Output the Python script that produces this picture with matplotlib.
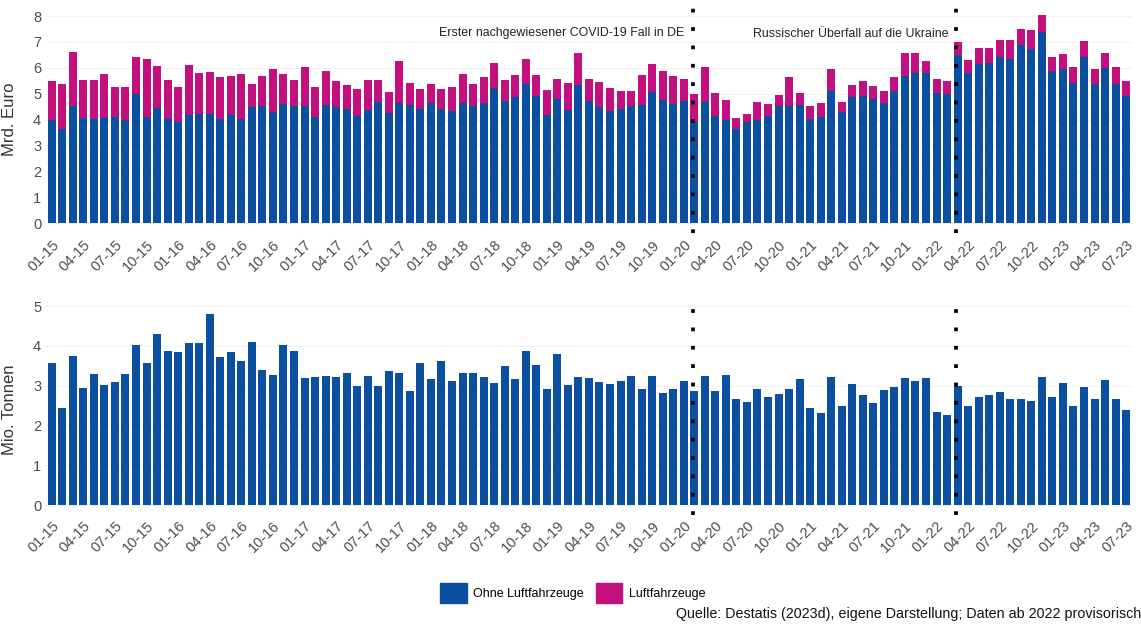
import matplotlib
matplotlib.use("Agg")
import matplotlib.pyplot as plt
from matplotlib.patches import Patch
import numpy as np

plt.rcParams['font.family'] = ['Liberation Sans', 'DejaVu Sans']

# Monatswerte 01/2015 - 07/2023
tick_labels = ["01-15", "04-15", "07-15", "10-15", "01-16", "04-16", "07-16", "10-16",
               "01-17", "04-17", "07-17", "10-17", "01-18", "04-18", "07-18", "10-18",
               "01-19", "04-19", "07-19", "10-19", "01-20", "04-20", "07-20", "10-20",
               "01-21", "04-21", "07-21", "10-21", "01-22", "04-22", "07-22", "10-22",
               "01-23", "04-23", "07-23"]

# Mrd. Euro
ohne_luft = [3.97, 3.62, 4.52, 4.07, 4.03, 4.07, 4.11, 3.98, 4.99, 4.11, 4.45, 4.01,
             3.89, 4.18, 4.23, 4.23, 4.01, 4.19, 4.02, 4.47, 4.54, 4.30, 4.59, 4.52,
             4.52, 4.09, 4.55, 4.47, 4.42, 4.15, 4.37, 4.69, 4.27, 4.65, 4.57, 4.39,
             4.63, 4.39, 4.32, 4.63, 4.52, 4.63, 5.21, 4.72, 4.88, 5.39, 4.90, 4.18,
             4.79, 4.38, 5.34, 4.73, 4.47, 4.32, 4.39, 4.52, 4.55, 5.08, 4.76, 4.60,
             4.72, 3.89, 4.69, 4.15, 3.98, 3.65, 3.92, 3.98, 4.12, 4.52, 4.52, 4.55,
             4.03, 4.09, 5.10, 4.29, 4.87, 4.92, 4.78, 4.63, 5.12, 5.68, 5.79, 5.79,
             5.03, 4.97, 6.48, 5.79, 6.13, 6.17, 6.40, 6.35, 6.87, 6.73, 7.40, 5.88,
             5.95, 5.41, 6.43, 5.39, 5.98, 5.39, 4.91]
luft = [1.52, 1.74, 2.08, 1.46, 1.50, 1.69, 1.13, 1.29, 1.43, 2.23, 1.63, 1.52,
        1.35, 1.92, 1.57, 1.59, 1.63, 1.51, 1.74, 0.92, 1.16, 1.65, 1.16, 1.00,
        1.50, 1.18, 1.31, 1.01, 0.90, 1.04, 1.16, 0.84, 0.81, 1.61, 0.84, 0.78,
        0.76, 0.78, 0.94, 1.13, 0.87, 1.00, 0.99, 0.81, 0.85, 0.94, 0.81, 0.97,
        0.76, 1.03, 1.22, 0.85, 0.97, 0.89, 0.73, 0.60, 1.16, 1.05, 1.13, 1.07,
        0.86, 1.11, 1.35, 0.88, 0.78, 0.41, 0.28, 0.71, 0.47, 0.43, 1.11, 0.46,
        0.51, 0.57, 0.85, 0.40, 0.45, 0.57, 0.52, 0.49, 0.54, 0.91, 0.80, 0.49,
        0.55, 0.52, 0.52, 0.52, 0.65, 0.61, 0.69, 0.71, 0.62, 0.72, 0.63, 0.55,
        0.58, 0.63, 0.62, 0.55, 0.61, 0.65, 0.59]

# Mio. Tonnen
tonnen = [3.58, 2.45, 3.74, 2.95, 3.29, 3.01, 3.08, 3.29, 4.01, 3.58, 4.29, 3.87,
          3.84, 4.06, 4.07, 4.81, 3.71, 3.84, 3.62, 4.10, 3.38, 3.27, 4.01, 3.86,
          3.20, 3.21, 3.25, 3.22, 3.31, 3.00, 3.25, 3.00, 3.36, 3.32, 2.86, 3.58,
          3.16, 3.63, 3.12, 3.32, 3.31, 3.22, 3.06, 3.49, 3.16, 3.87, 3.52, 2.92,
          3.79, 3.02, 3.22, 3.18, 3.10, 3.03, 3.12, 3.23, 2.91, 3.24, 2.81, 2.91,
          3.11, 2.87, 3.23, 2.87, 3.26, 2.67, 2.60, 2.91, 2.72, 2.80, 2.92, 3.16,
          2.45, 2.32, 3.22, 2.49, 3.03, 2.77, 2.57, 2.89, 2.97, 3.18, 3.12, 3.20,
          2.33, 2.25, 2.99, 2.50, 2.71, 2.76, 2.83, 2.66, 2.66, 2.62, 3.21, 2.71,
          3.07, 2.50, 2.96, 2.67, 3.14, 2.67, 2.40]

# Ereignisse: (Monatsindex, Tag, Tage im Monat, Text)
covid = (60, 27, 31, "Erster nachgewiesener COVID-19 Fall in DE")
krieg = (85, 24, 28, "Russischer Überfall auf die Ukraine")

blue = "#0a4fa0"
magenta = "#c2117f"
grey = "#4d4d4d"

x = np.arange(len(tonnen))
covid_pos = covid[0] + (covid[1] - 1) / covid[2]
krieg_pos = krieg[0] + (krieg[1] - 1) / krieg[2]

fig = plt.figure(figsize=(11.41, 6.24), dpi=100)
ax1 = fig.add_axes([0.0398, 0.626, 0.9527, 0.366])
ax2 = fig.add_axes([0.0398, 0.1753, 0.9527, 0.3375])

ax1.bar(x, ohne_luft, width=0.76, color=blue, zorder=2)
ax1.bar(x, luft, bottom=ohne_luft, width=0.76, color=magenta, zorder=2)
ax2.bar(x, tonnen, width=0.76, color=blue, zorder=2)

ax1.set_ylim(-0.4, 8.43)
ax1.set_yticks(range(0, 9))
ax2.set_ylim(-0.24, 5.05)
ax2.set_yticks(range(0, 6))

for ax, lab in [(ax1, "Mrd. Euro"), (ax2, "Mio. Tonnen")]:
    ax.set_xlim(-0.6, 102.6)
    ax.set_xticks(x[::3])
    ax.set_xticklabels(tick_labels, rotation=45, ha="right", va="top",
                       rotation_mode="anchor")
    ax.tick_params(length=0, labelsize=10.5, colors=grey, pad=3)
    for s in ax.spines.values():
        s.set_visible(False)
    ax.grid(axis="y", color="#f2f2f2", lw=0.8, zorder=0)
    ax.set_ylabel(lab, fontsize=12, color="#333333")
    ax.yaxis.set_label_coords(-0.026, 0.5)
    for pos in (covid_pos, krieg_pos):
        ax.axvline(pos, color="black", lw=2.7, linestyle=(0, (1, 3.9)), zorder=3)

ax1.text(covid_pos - 0.75, 7.35, covid[3], ha="right", va="center",
         fontsize=8.9, color="#222222")
ax1.text(krieg_pos - 0.7, 7.3, krieg[3], ha="right", va="center",
         fontsize=8.9, color="#222222")

handles = [Patch(color=blue), Patch(color=magenta)]
fig.legend(handles, ["Ohne Luftfahrzeuge", "Luftfahrzeuge"], loc="center",
           bbox_to_anchor=(0.502, 0.05), ncol=2, frameon=False, fontsize=9,
           handlelength=2.1, handleheight=2.1, handletextpad=0.5,
           columnspacing=1.0)

fig.text(1.0, 0.016, "Quelle: Destatis (2023d), eigene Darstellung; Daten ab 2022 provisorisch",
         ha="right", va="center", fontsize=10.3, color="#111111")

fig.savefig("out.png", dpi=100)
